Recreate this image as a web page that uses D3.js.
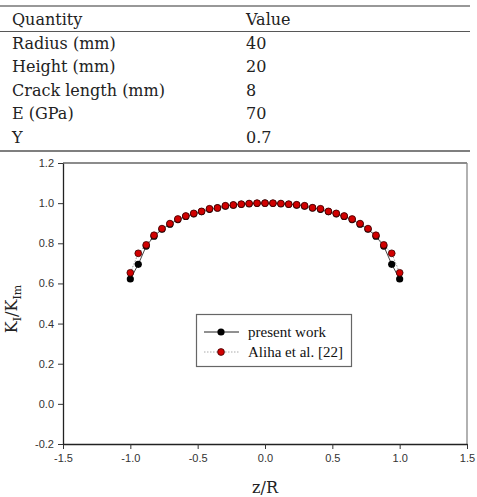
<!DOCTYPE html>
<html>
<head>
<meta charset="utf-8">
<script src="https://cdn.jsdelivr.net/npm/d3@7"></script>
<style>
  body { margin: 0; background: #fff; }
  svg { display: block; }
</style>
</head>
<body>
<div id="chart"></div>
<script>
// table contents
const tableHeader = ["Quantity", "Value"];
const quantities = ["Radius (mm)", "Height (mm)", "Crack length (mm)", "E (GPa)", "Y"];
const values = ["40", "20", "8", "70", "0.7"];

// chart data
const zR = [-1, -0.941, -0.882, -0.824, -0.765, -0.706, -0.647, -0.588, -0.529, -0.471, -0.412,
    -0.353, -0.294, -0.235, -0.176, -0.118, -0.059, 0, 0.059, 0.118, 0.176, 0.235, 0.294,
    0.353, 0.412, 0.471, 0.529, 0.588, 0.647, 0.706, 0.765, 0.824, 0.882, 0.941, 1];
const presentWork = [0.622, 0.695, 0.786, 0.835, 0.870, 0.895, 0.918, 0.934, 0.947, 0.958, 0.969,
    0.976, 0.985, 0.990, 0.994, 0.997, 0.999, 1.000, 0.999, 0.997, 0.994, 0.990, 0.985,
    0.976, 0.969, 0.958, 0.947, 0.934, 0.918, 0.895, 0.870, 0.835, 0.786, 0.695, 0.622];
const aliha = [0.653, 0.750, 0.792, 0.840, 0.873, 0.898, 0.921, 0.936, 0.949, 0.959, 0.972,
    0.976, 0.987, 0.991, 0.995, 0.998, 1.000, 1.000, 1.000, 0.998, 0.995, 0.992, 0.987,
    0.977, 0.972, 0.959, 0.949, 0.936, 0.921, 0.898, 0.873, 0.840, 0.792, 0.750, 0.653];
const seriesNames = ["present work", "Aliha et al. [22]"];

const xTicks = [-1.5, -1.0, -0.5, 0.0, 0.5, 1.0, 1.5];
const xTickLabels = ["-1.5", "-1.0", "-0.5", "0.0", "0.5", "1.0", "1.5"];
const yTicks = [-0.2, 0.0, 0.2, 0.4, 0.6, 0.8, 1.0, 1.2];
const yTickLabels = ["-0.2", "0.0", "0.2", "0.4", "0.6", "0.8", "1.0", "1.2"];

const width = 477, height = 497;

const svg = d3.select("#chart")
    .append("svg")
    .attr("width", width)
    .attr("height", height);

svg.append("rect").attr("width", width).attr("height", height).attr("fill", "#fff");

// ---- table ----
const tableFont = "'DejaVu Serif', serif";
const rowY = d3.scaleLinear().domain([0, 1]).range([49, 72.4]);

svg.append("line").attr("x1", 0).attr("x2", 470).attr("y1", 6).attr("y2", 6)
    .attr("stroke", "#333").attr("stroke-width", 1.2);
svg.append("line").attr("x1", 0).attr("x2", 470).attr("y1", 31.5).attr("y2", 31.5)
    .attr("stroke", "#444").attr("stroke-width", 0.9);
svg.append("line").attr("x1", 0).attr("x2", 470).attr("y1", 151).attr("y2", 151)
    .attr("stroke", "#555").attr("stroke-width", 1.6);

svg.selectAll(".hdr")
    .data(tableHeader)
    .join("text")
    .attr("x", (d, i) => i === 0 ? 12 : 246)
    .attr("y", 24.5)
    .style("font-family", tableFont)
    .style("font-size", "16px")
    .attr("fill", "#222")
    .text(d => d);

svg.selectAll(".qty")
    .data(quantities)
    .join("text")
    .attr("x", 12)
    .attr("y", (d, i) => rowY(i))
    .style("font-family", tableFont)
    .style("font-size", "16px")
    .attr("fill", "#222")
    .text(d => d);

svg.selectAll(".val")
    .data(values)
    .join("text")
    .attr("x", 246)
    .attr("y", (d, i) => rowY(i))
    .style("font-family", tableFont)
    .style("font-size", "16px")
    .attr("fill", "#222")
    .text(d => d);

// ---- chart ----
const plotL = 63, plotR = 467, plotT = 163, plotB = 444;

const x = d3.scaleLinear().domain([-1.5, 1.5]).range([plotL, plotR]);
const y = d3.scaleLinear().domain([-0.2, 1.2]).range([plotB, plotT]);

// frame
svg.append("line").attr("x1", plotL).attr("x2", plotR).attr("y1", plotT).attr("y2", plotT)
    .attr("stroke", "#666").attr("stroke-width", 1.3);
svg.append("line").attr("x1", plotR).attr("x2", plotR).attr("y1", plotT).attr("y2", plotB)
    .attr("stroke", "#888").attr("stroke-width", 1.3);

const xAxis = svg.append("g")
    .attr("transform", `translate(0,${plotB})`)
    .call(d3.axisBottom(x).tickValues(xTicks).tickFormat((d, i) => xTickLabels[i])
        .tickSizeInner(5).tickSizeOuter(0).tickPadding(5));

const yAxis = svg.append("g")
    .attr("transform", `translate(${plotL},0)`)
    .call(d3.axisLeft(y).tickValues(yTicks).tickFormat((d, i) => yTickLabels[i])
        .tickSizeInner(5).tickSizeOuter(0).tickPadding(4));

[xAxis, yAxis].forEach(g => {
    g.select(".domain").attr("stroke", "#222").attr("stroke-width", 1.3);
    g.selectAll(".tick line").attr("stroke", "#333");
    g.selectAll(".tick text")
        .style("font-family", "'Liberation Sans', Arial, sans-serif")
        .style("font-size", "11px")
        .attr("fill", "#333");
});

const line = d3.line()
    .x(d => x(d[0]))
    .y(d => y(d[1]));

const presentPts = zR.map((z, i) => [z, presentWork[i]]);
const alihaPts = zR.map((z, i) => [z, aliha[i]]);

svg.append("path")
    .datum(presentPts)
    .attr("d", line)
    .attr("fill", "none")
    .attr("stroke", "#444")
    .attr("stroke-width", 1);

svg.append("path")
    .datum(alihaPts)
    .attr("d", line)
    .attr("fill", "none")
    .attr("stroke", "#999")
    .attr("stroke-width", 1)
    .attr("stroke-dasharray", "1.5,1.5");

svg.selectAll(".pw")
    .data(presentPts)
    .join("circle")
    .attr("cx", d => x(d[0]))
    .attr("cy", d => y(d[1]))
    .attr("r", 3.6)
    .attr("fill", "#000");

svg.selectAll(".al")
    .data(alihaPts)
    .join("circle")
    .attr("cx", d => x(d[0]))
    .attr("cy", d => y(d[1]))
    .attr("r", 3.4)
    .attr("fill", "#d10000")
    .attr("stroke", "#3a0000")
    .attr("stroke-width", 0.8);

// legend
const legend = svg.append("g");
legend.append("rect")
    .attr("x", 196.5).attr("y", 314.5)
    .attr("width", 155).attr("height", 52)
    .attr("fill", "#fff")
    .attr("stroke", "#666")
    .attr("stroke-width", 1.2);

const legY = [332, 352];
seriesNames.forEach((name, i) => {
    legend.append("line")
        .attr("x1", 204).attr("x2", 239)
        .attr("y1", legY[i]).attr("y2", legY[i])
        .attr("stroke", i === 0 ? "#222" : "#aaa")
        .attr("stroke-width", 1)
        .attr("stroke-dasharray", i === 0 ? null : "1.5,1.5");
    legend.append("circle")
        .attr("cx", 221).attr("cy", legY[i])
        .attr("r", i === 0 ? 3.6 : 3.4)
        .attr("fill", i === 0 ? "#000" : "#d10000")
        .attr("stroke", i === 0 ? null : "#3a0000")
        .attr("stroke-width", 0.8);
    legend.append("text")
        .attr("x", 248).attr("y", legY[i] + 5)
        .style("font-family", "'Liberation Serif', 'Times New Roman', serif")
        .style("font-size", "15px")
        .attr("fill", "#111")
        .text(name);
});

// axis titles
svg.append("text")
    .attr("x", x(0))
    .attr("y", 493)
    .attr("text-anchor", "middle")
    .style("font-family", "'DejaVu Serif', serif")
    .style("font-size", "16px")
    .attr("fill", "#222")
    .text("z/R");

const yTitle = svg.append("text")
    .attr("transform", "translate(17,309) rotate(-90)")
    .attr("text-anchor", "middle")
    .style("font-family", "'DejaVu Serif', serif")
    .style("font-size", "16px")
    .attr("fill", "#222");
yTitle.append("tspan").text("K");
yTitle.append("tspan").attr("dy", 4).style("font-size", "11px").text("I");
yTitle.append("tspan").attr("dy", -4).text("/K");
yTitle.append("tspan").attr("dy", 4).style("font-size", "11px").text("Im");
</script>
</body>
</html>
